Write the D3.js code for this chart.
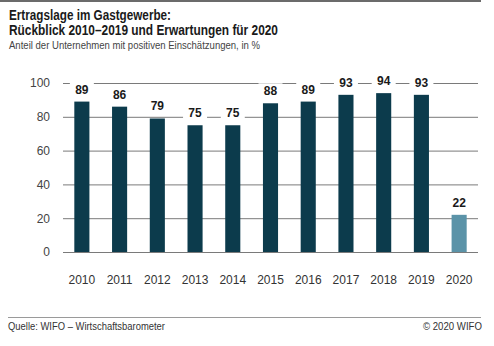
<!DOCTYPE html>
<html>
<head>
<meta charset="utf-8">
<script src="https://cdn.jsdelivr.net/npm/d3@7"></script>
<style>
  body { margin: 0; background: #fff; }
  svg { display: block; }
</style>
</head>
<body>
<div id="chart"></div>
<script>
// Values per year, share of firms with positive assessment (%)
let years = ["2010", "2011", "2012", "2013", "2014", "2015", "2016", "2017", "2018", "2019", "2020"];
let shares = [89, 86, 79, 75, 75, 88, 89, 93, 94, 93, 22];
let yTicks = [0, 20, 40, 60, 80, 100];

let svgWidth = 494;
let svgHeight = 346;

let margin = { top: 83, bottom: 94, left: 63, right: 16 };
let height = svgHeight - margin.top - margin.bottom;
let width = svgWidth - margin.left - margin.right;

let font = "'Liberation Sans', Arial, sans-serif";

let svg = d3.select("#chart")
  .append("svg")
  .attr("width", svgWidth)
  .attr("height", svgHeight)
  .style("font-family", font);

// Frame rules at top and above the footer
svg.append("rect")
  .attr("x", 0).attr("y", 0)
  .attr("width", 481).attr("height", 2)
  .attr("fill", "#6b6b6b");

svg.append("line")
  .attr("x1", 8).attr("x2", 481)
  .attr("y1", 317.5).attr("y2", 317.5)
  .attr("stroke", "#9a9a9a")
  .attr("stroke-width", 1);

// Title block, squeezed to a condensed width
function squeezed(x, y, size, weight, fill, len, str) {
  svg.append("text")
    .attr("x", x).attr("y", y)
    .attr("font-size", size).attr("font-weight", weight).attr("fill", fill)
    .attr("textLength", len).attr("lengthAdjust", "spacingAndGlyphs")
    .text(str);
}
squeezed(9, 20, 14, "bold", "#1a1a1a", 162, "Ertragslage im Gastgewerbe:");
squeezed(9, 35, 14, "bold", "#1a1a1a", 269, "Rückblick 2010–2019 und Erwartungen für 2020");
squeezed(9, 49, 10, "normal", "#444", 251, "Anteil der Unternehmen mit positiven Einschätzungen, in %");

// Footer
squeezed(8, 330, 10, "normal", "#333", 157, "Quelle: WIFO – Wirtschaftsbarometer");
svg.append("text")
  .attr("x", 482).attr("y", 330)
  .attr("text-anchor", "end")
  .attr("font-size", 10).attr("fill", "#333")
  .attr("textLength", 59).attr("lengthAdjust", "spacingAndGlyphs")
  .text("© 2020 WIFO");

let chartGroup = svg.append("g")
  .attr("transform", `translate(${margin.left}, ${margin.top})`);

let xScale = d3.scaleBand()
  .domain(years)
  .range([0, width])
  .paddingInner(0.6)
  .paddingOuter(0.3);

let yScale = d3.scaleLinear()
  .domain([0, 100])
  .range([height, 0]);

// Horizontal gridlines with tick labels
let leftAxis = d3.axisLeft(yScale)
  .tickValues(yTicks)
  .tickSize(-width)
  .tickPadding(13);

let yAxis = chartGroup.append("g").call(leftAxis);
yAxis.select(".domain").remove();
yAxis.selectAll(".tick line").attr("stroke", "#7a7a7a").attr("stroke-width", 1);
yAxis.selectAll(".tick text")
  .attr("font-family", font)
  .attr("font-size", 12)
  .attr("fill", "#444");

// Year labels under the bars
let bottomAxis = d3.axisBottom(xScale).tickSize(0).tickPadding(23);
let xAxis = chartGroup.append("g")
  .attr("transform", `translate(0, ${height})`)
  .call(bottomAxis);
xAxis.select(".domain").remove();
xAxis.selectAll(".tick text")
  .attr("font-family", font)
  .attr("font-size", 12)
  .attr("fill", "#333");

let data = years.map((y, i) => ({ year: y, value: shares[i] }));

chartGroup.selectAll("rect.bar")
  .data(data)
  .enter()
  .append("rect")
  .attr("class", "bar")
  .attr("x", d => xScale(d.year))
  .attr("y", d => yScale(d.value))
  .attr("width", xScale.bandwidth())
  .attr("height", d => height - yScale(d.value))
  .attr("fill", d => d.year === "2020" ? "#5b93a8" : "#0c3b4c");

// Value labels sit on white patches that cut the gridlines
let labels = chartGroup.selectAll("g.label")
  .data(data)
  .enter()
  .append("g")
  .attr("class", "label")
  .attr("transform", d => `translate(${xScale(d.year) + xScale.bandwidth() / 2}, ${yScale(d.value) - 8})`);

labels.append("rect")
  .attr("x", -12).attr("y", -12)
  .attr("width", 24).attr("height", 16)
  .attr("fill", "#fff");

labels.append("text")
  .attr("text-anchor", "middle")
  .attr("font-size", 12)
  .attr("font-weight", "bold")
  .attr("fill", "#1a1a1a")
  .text(d => d.value);
</script>
</body>
</html>
